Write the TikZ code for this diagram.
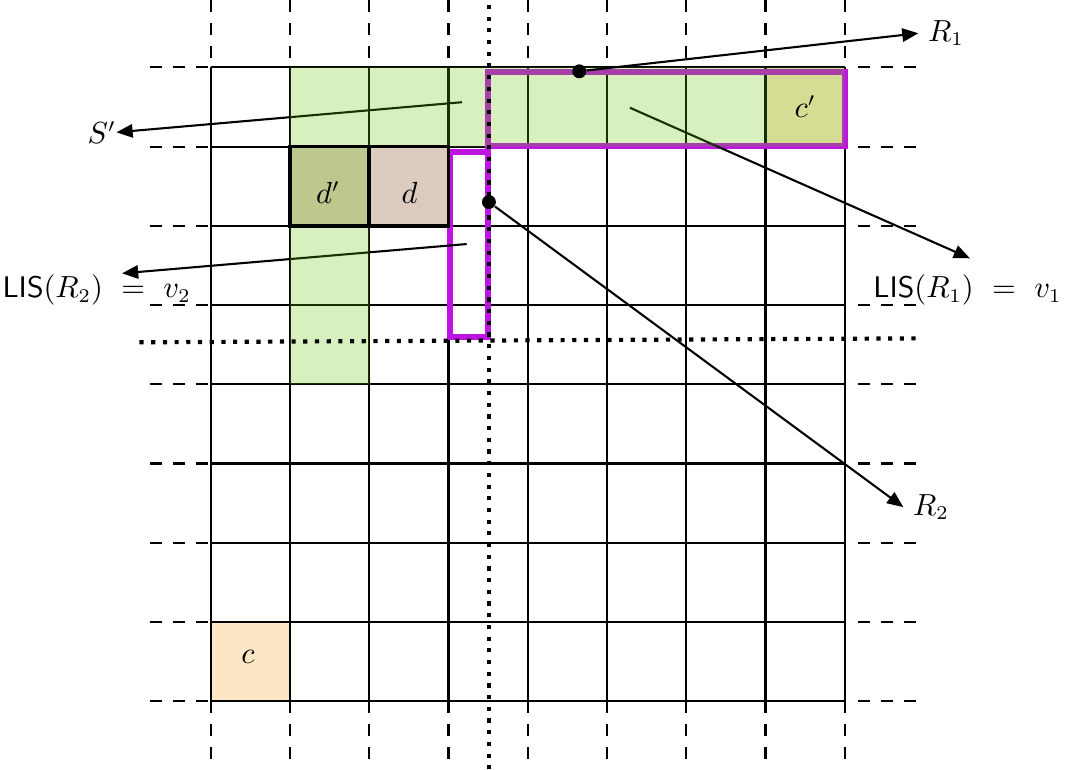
\documentclass[tikz,border=0pt]{standalone}
\usepackage{amsmath,amssymb}
\usepackage{tikz}
\usetikzlibrary{calc,positioning,arrows.meta}
\definecolor{SGreen}{RGB}{100,192,4}
\definecolor{RViolet}{RGB}{190,20,225}
\definecolor{CCell}{RGB}{252,230,196}
\definecolor{DCell}{RGB}{219,203,190}

\begin{document}
\begin{tikzpicture}[>={Triangle[length=5.8pt,width=4.8pt]},
  every node/.style={font=\fontsize{10.7}{13}\selectfont},
  gridln/.style={line width=0.75pt},
  extln/.style={line width=0.75pt,dash pattern=on 4.3pt off 4pt},
  dotln/.style={line width=1.5pt,dash pattern=on 1.5pt off 2.7pt},
  rbox/.style={draw=RViolet,line width=2.2pt},
  cellbox/.style={draw,line width=1.3pt},
  bdot/.style={circle,fill,inner sep=0pt,minimum size=5pt},
  arr/.style={->,line width=0.75pt}]
\useasboundingbox (-2.66,-0.86) rectangle (10.78,8.85);
% cells and grid
\fill[CCell] (0,0) rectangle (1,1);\fill[CCell] (7,7) rectangle (8,8);
\fill[DCell] (1,6) rectangle (2,7);\fill[DCell] (2,6) rectangle (3,7);
\draw[gridln] (0,0) grid (8,8);
\foreach \k in {0,...,8}{\draw[extln] (\k,0)--(\k,-0.86);\draw[extln] (\k,8.85)--(\k,8.12);
  \draw[extln] (-0.77,\k)--(0,\k);\draw[extln] (8.17,\k)--(8.92,\k);}
% the two rectangles
\draw[rbox] (3.5,7.01) rectangle (8,7.94);
\draw[rbox] (3.02,4.6) rectangle (3.5,6.93);
% arrows
\coordinate (sfrom) at (3.17,7.56);\coordinate (sto) at (-1.19,7.18);
\coordinate (lfrom) at (3.23,5.77);\coordinate (lto) at (-1.12,5.40);
\coordinate (kfrom) at (5.29,7.49);\coordinate (kto) at (9.58,5.59);
\coordinate (r1tip) at (8.93,8.43);\coordinate (r2tip) at (8.74,2.45);
\draw[arr] (sfrom)--(sto);\draw[arr] (lfrom)--(lto);\draw[arr] (kfrom)--(kto);
% S'
\fill[SGreen,fill opacity=0.25] (1,4)--(2,4)--(2,7)--(8,7)--(8,8)--(1,8)--cycle;
\draw[cellbox] (1,6) rectangle (2,7);\draw[cellbox] (2,6) rectangle (3,7);
\draw[dotln] (3.51,-0.86)--(3.51,8.85);
\draw[dotln] (-0.9,4.53)--(8.95,4.58);
\node[bdot] (r1dot) at (4.65,7.95) {};\node[bdot] (r2dot) at (3.51,6.3) {};
\draw[arr] (r1dot)--(r1tip);\draw[arr] (r2dot)--(r2tip);
% labels
\node[right] (r1lbl) at (r1tip) {$R_1$};\node[right] (r2lbl) at (r2tip) {$R_2$};
\node[left,inner sep=0pt] (slbl) at (sto) {$S'$};
\node (lis2) at (-1.44,5.19) {$\textsf{LIS}(R_2)\ =\ v_2$};
\node (lis1) at (9.55,5.19) {$\textsf{LIS}(R_1)\ =\ v_1$};
\node (cc) at (0.47,0.56) {$c$};\node (cp) at (7.5,7.5) {$c'$};
\node (dp) at (1.48,6.42) {$d'$};\node (dd) at (2.51,6.42) {$d$};
\end{tikzpicture}
\end{document}
